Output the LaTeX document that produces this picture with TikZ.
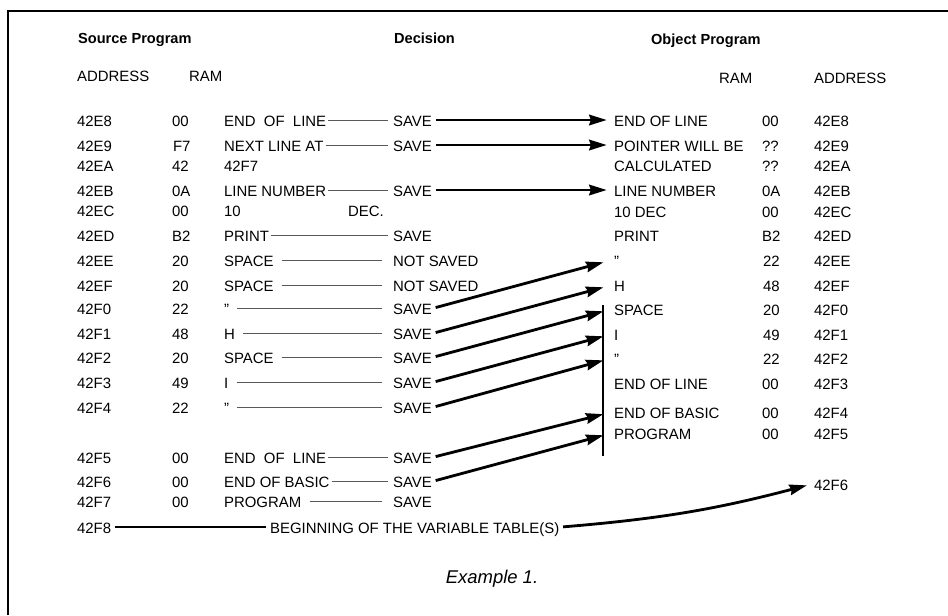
\documentclass[tikz,border=0pt]{standalone}
\usepackage{fontspec}
\setmainfont{Liberation Sans}
\usetikzlibrary{arrows.meta}

\tikzset{
  txt/.style={anchor=west, inner xsep=1pt, inner ysep=0pt, text height=1.6ex, text depth=.25ex, font=\fontsize{8.5}{10}\selectfont},
  head/.style={txt, font=\fontsize{8.3}{10}\selectfont\bfseries},
  thinlink/.style={draw=black!65, line width=0.45pt, shorten >=1.5pt},
  gaplink/.style={thinlink, shorten <=3.5pt, shorten >=5pt},
  bigarrow/.style={line width=1.6pt, -{Stealth[length=10pt,width=6pt,inset=1pt]}, shorten <=1pt},
}

\begin{document}
\begin{tikzpicture}[x=0.2mm,y=-0.2mm]
\path[use as bounding box] (0,0) rectangle (948,615);
\draw[line width=1.1pt] (8,615) -- (8,11) -- (948,11);

\node[head] (hsrc) at (76,37) {Source Program};
\node[head] (hdec) at (392,37) {Decision};
\node[head] (hobj) at (649,38) {Object Program};
\node[txt] (hsaddr) at (75,75) {ADDRESS};
\node[txt] (hsram) at (187,75) {RAM};
\node[txt] (horam) at (717,77) {RAM};
\node[txt] (hoaddr) at (812,77) {ADDRESS};

\node[txt] (sa1) at (75,120) {42E8};
\node[txt] (sa2) at (75,145) {42E9};
\node[txt] (sa3) at (75,165) {42EA};
\node[txt] (sa4) at (75,190) {42EB};
\node[txt] (sa5) at (75,210) {42EC};
\node[txt] (sa6) at (75,235) {42ED};
\node[txt] (sa7) at (75,260) {42EE};
\node[txt] (sa8) at (75,285) {42EF};
\node[txt] (sa9) at (75,308) {42F0};
\node[txt] (sa10) at (75,333) {42F1};
\node[txt] (sa11) at (75,357) {42F2};
\node[txt] (sa12) at (75,382) {42F3};
\node[txt] (sa13) at (75,407) {42F4};
\node[txt] (sa14) at (75,457) {42F5};
\node[txt] (sa15) at (75,481) {42F6};
\node[txt] (sa16) at (75,501) {42F7};
\node[txt] (sa17) at (75,527) {42F8};

\node[txt] (sr1) at (170,120) {00};
\node[txt] (sr2) at (171,145) {F7};
\node[txt] (sr3) at (170,165) {42};
\node[txt] (sr4) at (170,190) {0A};
\node[txt] (sr5) at (170,210) {00};
\node[txt] (sr6) at (170,235) {B2};
\node[txt] (sr7) at (170,260) {20};
\node[txt] (sr8) at (170,285) {20};
\node[txt] (sr9) at (170,308) {22};
\node[txt] (sr10) at (170,333) {48};
\node[txt] (sr11) at (170,357) {20};
\node[txt] (sr12) at (170,382) {49};
\node[txt] (sr13) at (170,407) {22};
\node[txt] (sr14) at (170,457) {00};
\node[txt] (sr15) at (170,481) {00};
\node[txt] (sr16) at (170,501) {00};

\node[txt] (st1) at (222,120) {END\ \ OF\ \ LINE};
\node[txt] (st2) at (222,145) {NEXT LINE AT};
\node[txt] (st3) at (222,165) {42F7};
\node[txt] (st4) at (222,190) {LINE NUMBER};
\node[txt] (st5) at (222,210) {10};
\node[txt] (sdec) at (346,210) {DEC.};
\node[txt] (st6) at (222,235) {PRINT};
\node[txt] (st7) at (222,260) {SPACE};
\node[txt] (st8) at (222,285) {SPACE};
\node[txt] (st9) at (222,308) {''};
\node[txt] (st10) at (222,333) {H};
\node[txt] (st11) at (222,357) {SPACE};
\node[txt] (st12) at (222,382) {I};
\node[txt] (st13) at (222,407) {''};
\node[txt] (st14) at (222,457) {END\ \ OF\ \ LINE};
\node[txt] (st15) at (222,481) {END OF BASIC};
\node[txt] (st16) at (222,501) {PROGRAM};
\node[txt] (sbeg) at (268,527) {BEGINNING OF THE VARIABLE TABLE(S)};

\node[txt] (d1) at (391,120) {SAVE};
\node[txt] (d2) at (391,145) {SAVE};
\node[txt] (d4) at (391,190) {SAVE};
\node[txt] (d6) at (391,235) {SAVE};
\node[txt] (d7) at (391,260) {NOT SAVED};
\node[txt] (d8) at (391,285) {NOT SAVED};
\node[txt] (d9) at (391,308) {SAVE};
\node[txt] (d10) at (391,333) {SAVE};
\node[txt] (d11) at (391,357) {SAVE};
\node[txt] (d12) at (391,382) {SAVE};
\node[txt] (d13) at (391,407) {SAVE};
\node[txt] (d14) at (391,457) {SAVE};
\node[txt] (d15) at (391,481) {SAVE};
\node[txt] (d16) at (391,501) {SAVE};

\node[txt] (ot1) at (612,120) {END OF LINE};
\node[txt] (ot2) at (612,145) {POINTER WILL BE};
\node[txt] (ot3) at (612,165) {CALCULATED};
\node[txt] (ot4) at (612,190) {LINE NUMBER};
\node[txt] (ot5) at (612,211) {10 DEC};
\node[txt] (ot6) at (612,235) {PRINT};
\node[txt] (ot7) at (612,260) {''};
\node[txt] (ot8) at (612,285) {H};
\node[txt] (ot9) at (612,309) {SPACE};
\node[txt] (ot10) at (612,334) {I};
\node[txt] (ot11) at (612,358) {''};
\node[txt] (ot12) at (612,383) {END OF LINE};
\node[txt] (ot13) at (612,412) {END OF BASIC};
\node[txt] (ot14) at (612,433) {PROGRAM};

\node[txt] (or1) at (760,120) {00};
\node[txt] (or2) at (760,145) {??};
\node[txt] (or3) at (760,165) {??};
\node[txt] (or4) at (760,190) {0A};
\node[txt] (or5) at (760,211) {00};
\node[txt] (or6) at (760,235) {B2};
\node[txt] (or7) at (761,260) {22};
\node[txt] (or8) at (761,285) {48};
\node[txt] (or9) at (761,309) {20};
\node[txt] (or10) at (761,334) {49};
\node[txt] (or11) at (761,358) {22};
\node[txt] (or12) at (760,383) {00};
\node[txt] (or13) at (760,412) {00};
\node[txt] (or14) at (760,433) {00};

\node[txt] (oa1) at (812,120) {42E8};
\node[txt] (oa2) at (812,145) {42E9};
\node[txt] (oa3) at (812,165) {42EA};
\node[txt] (oa4) at (812,190) {42EB};
\node[txt] (oa5) at (812,211) {42EC};
\node[txt] (oa6) at (812,235) {42ED};
\node[txt] (oa7) at (812,260) {42EE};
\node[txt] (oa8) at (812,285) {42EF};
\node[txt] (oa9) at (812,309) {42F0};
\node[txt] (oa10) at (812,334) {42F1};
\node[txt] (oa11) at (812,358) {42F2};
\node[txt] (oa12) at (812,383) {42F3};
\node[txt] (oa13) at (812,412) {42F4};
\node[txt] (oa14) at (812,433) {42F5};
\node[txt] (oa15) at (812,484) {42F6};

\draw[thinlink] (st1.east) -- (d1.west);
\draw[thinlink] (st2.east) -- (d2.west);
\draw[thinlink] (st4.east) -- (d4.west);
\draw[thinlink] (st6.east) -- (d6.west);
\draw[gaplink] (st7.east) -- (d7.west);
\draw[gaplink] (st8.east) -- (d8.west);
\draw[gaplink] (st9.east) -- (d9.west);
\draw[gaplink] (st10.east) -- (d10.west);
\draw[gaplink] (st11.east) -- (d11.west);
\draw[gaplink] (st12.east) -- (d12.west);
\draw[gaplink] (st13.east) -- (d13.west);
\draw[thinlink] (st14.east) -- (d14.west);
\draw[thinlink] (st15.east) -- (d15.west);
\draw[gaplink] (st16.east) -- (d16.west);

\draw[line width=1.3pt] (603,305) -- (603,456);

\draw[bigarrow, shorten >=3pt] (d1.east) -- (ot1.west);
\draw[bigarrow, shorten >=3pt] (d2.east) -- (ot2.west);
\draw[bigarrow, shorten >=3pt] (d4.east) -- (ot4.west);
\draw[bigarrow, shorten >=5pt] (d9.east) -- (ot7.west);
\draw[bigarrow, shorten >=5pt] (d10.east) -- (ot8.west);
\draw[bigarrow, shorten >=5pt] (d11.east) -- (ot9.west);
\draw[bigarrow, shorten >=5pt] (d12.east) -- (ot10.west);
\draw[bigarrow, shorten >=5pt] (d13.east) -- (ot11.west);
\draw[bigarrow, shorten >=5pt] (d14.east) -- (ot13.west);
\draw[bigarrow, shorten >=5pt] (d15.east) -- (ot14.west);

\draw[line width=1.6pt, shorten <=1pt, shorten >=1pt] (sa17.east) -- (sbeg.west);
\draw[bigarrow, shorten >=3pt] (sbeg.east) to[bend right=5] (oa15.west);

\node[font=\fontsize{10.5}{12}\selectfont\itshape] (cap) at (492,579) {Example 1.};
\end{tikzpicture}
\end{document}
